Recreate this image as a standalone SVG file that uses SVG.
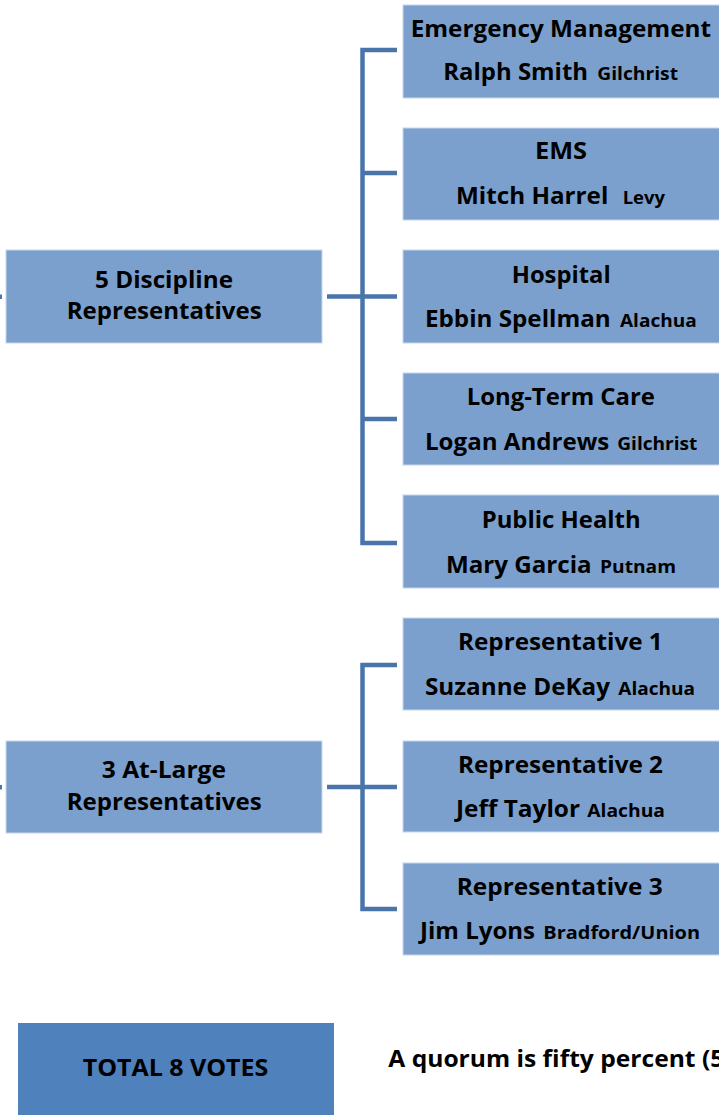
<svg xmlns="http://www.w3.org/2000/svg" width="719" height="1115" viewBox="0 0 719 1115">
<style>
.box{fill:#7ba0cd;stroke:#c6d6ea;stroke-width:1}
.tot{fill:#4f81bd}
.t{font-family:"Open Sans",Lato,"Liberation Sans",sans-serif;font-weight:bold;font-size:23.5px;fill:#000}
.s{font-family:"Open Sans",Lato,"Liberation Sans",sans-serif;font-weight:bold;font-size:18.5px;fill:#000}
.ln{stroke:#4a75ab;stroke-width:4.5;fill:none}
</style>
<rect width="719" height="1115" fill="#fff"/>
<g id="connectors">
<path class="ln" d="M327 296.5H397M397 50H362.5V543H397M362.5 173H397M362.5 419H397"/>
<path class="ln" d="M327 787H397M397 665H362.5V909H397"/>
<rect x="0" y="294.5" width="2" height="4.5" fill="#4a75ab"/>
<rect x="0" y="785" width="2" height="4.5" fill="#4a75ab"/>
</g>
<g id="discipline">
<rect class="box" x="6" y="250" width="316" height="93"/>
<text class="t" x="95" y="288" textLength="138" lengthAdjust="spacingAndGlyphs">5 Discipline</text>
<text class="t" x="66.7" y="319" textLength="195" lengthAdjust="spacingAndGlyphs">Representatives</text>
</g>
<g id="atlarge">
<rect class="box" x="6" y="741" width="316" height="92"/>
<text class="t" x="101.7" y="778" textLength="124.3" lengthAdjust="spacingAndGlyphs">3 At-Large</text>
<text class="t" x="66.7" y="810" textLength="195" lengthAdjust="spacingAndGlyphs">Representatives</text>
</g>
<g id="em">
<rect class="box" x="403" y="5" width="330" height="93"/>
<text class="t" x="410.7" y="36.7" textLength="300.3" lengthAdjust="spacingAndGlyphs">Emergency Management</text>
<text class="t" x="443.3" y="80" textLength="144.7" lengthAdjust="spacingAndGlyphs">Ralph Smith</text>
<text class="s" x="597.3" y="80" textLength="80.7" lengthAdjust="spacingAndGlyphs">Gilchrist</text>
</g>
<g id="ems">
<rect class="box" x="403" y="128" width="330" height="92"/>
<text class="t" x="535" y="159" textLength="52" lengthAdjust="spacingAndGlyphs">EMS</text>
<text class="t" x="456" y="204" textLength="152.3" lengthAdjust="spacingAndGlyphs">Mitch Harrel</text>
<text class="s" x="622.7" y="204" textLength="42.3" lengthAdjust="spacingAndGlyphs">Levy</text>
</g>
<g id="hospital">
<rect class="box" x="403" y="250" width="330" height="93"/>
<text class="t" x="511.7" y="283.3" textLength="99" lengthAdjust="spacingAndGlyphs">Hospital</text>
<text class="t" x="425" y="327.3" textLength="185.7" lengthAdjust="spacingAndGlyphs">Ebbin Spellman</text>
<text class="s" x="620" y="327.3" textLength="76.7" lengthAdjust="spacingAndGlyphs">Alachua</text>
</g>
<g id="ltc">
<rect class="box" x="403" y="373" width="330" height="92"/>
<text class="t" x="466.7" y="405" textLength="188.3" lengthAdjust="spacingAndGlyphs">Long-Term Care</text>
<text class="t" x="425" y="450" textLength="184.3" lengthAdjust="spacingAndGlyphs">Logan Andrews</text>
<text class="s" x="617.3" y="450" textLength="80" lengthAdjust="spacingAndGlyphs">Gilchrist</text>
</g>
<g id="ph">
<rect class="box" x="403" y="495" width="330" height="93"/>
<text class="t" x="481.7" y="527.7" textLength="159" lengthAdjust="spacingAndGlyphs">Public Health</text>
<text class="t" x="446" y="572.7" textLength="145.7" lengthAdjust="spacingAndGlyphs">Mary Garcia</text>
<text class="s" x="600" y="572.7" textLength="76" lengthAdjust="spacingAndGlyphs">Putnam</text>
</g>
<g id="rep1">
<rect class="box" x="403" y="618" width="330" height="92"/>
<text class="t" x="458" y="650" textLength="204.7" lengthAdjust="spacingAndGlyphs">Representative 1</text>
<text class="t" x="425" y="695" textLength="185" lengthAdjust="spacingAndGlyphs">Suzanne DeKay</text>
<text class="s" x="618.3" y="695" textLength="76.7" lengthAdjust="spacingAndGlyphs">Alachua</text>
</g>
<g id="rep2">
<rect class="box" x="403" y="741" width="330" height="91"/>
<text class="t" x="458" y="772.7" textLength="205" lengthAdjust="spacingAndGlyphs">Representative 2</text>
<text class="t" x="456" y="816.7" textLength="124" lengthAdjust="spacingAndGlyphs">Jeff Taylor</text>
<text class="s" x="587.3" y="816.7" textLength="77.7" lengthAdjust="spacingAndGlyphs">Alachua</text>
</g>
<g id="rep3">
<rect class="box" x="403" y="863" width="330" height="92"/>
<text class="t" x="456.7" y="895" textLength="206" lengthAdjust="spacingAndGlyphs">Representative 3</text>
<text class="t" x="420" y="939" textLength="115" lengthAdjust="spacingAndGlyphs">Jim Lyons</text>
<text class="s" x="543.3" y="939" textLength="156.7" lengthAdjust="spacingAndGlyphs">Bradford/Union</text>
</g>
<g id="total">
<rect class="tot" x="18" y="1023" width="316" height="100"/>
<text class="t" x="82.7" y="1076" textLength="185.6" lengthAdjust="spacingAndGlyphs">TOTAL 8 VOTES</text>
</g>
<g id="quorum">
<text class="t" x="388.3" y="1066.7" textLength="336" lengthAdjust="spacingAndGlyphs">A quorum is fifty percent (5</text>
</g>
</svg>
